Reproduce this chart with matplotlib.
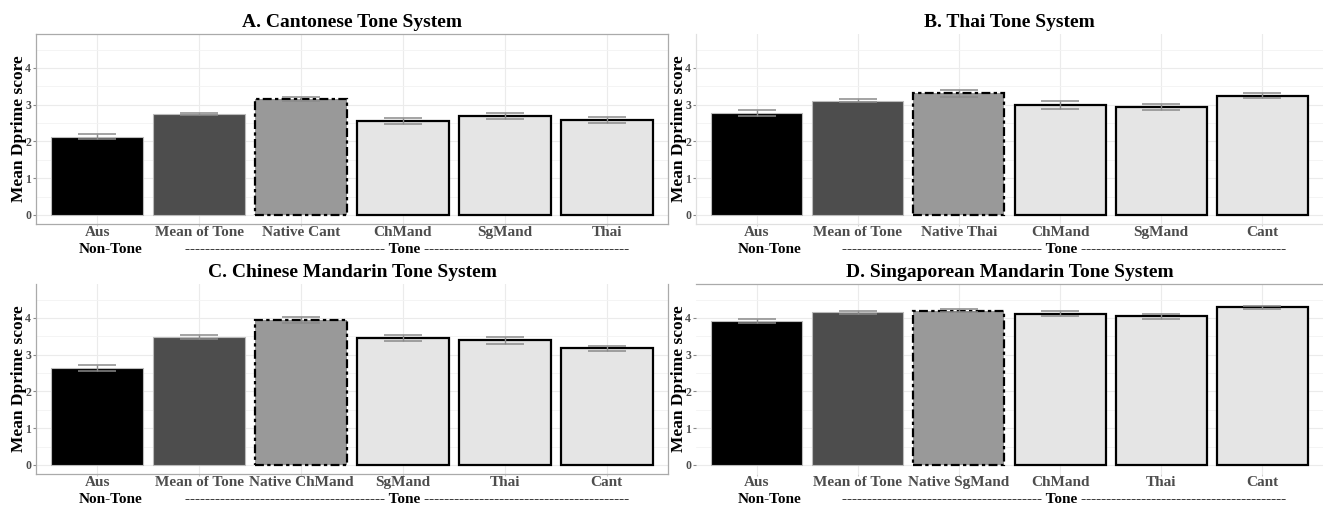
import matplotlib
matplotlib.use("Agg")
from matplotlib import pyplot as plt
from matplotlib.ticker import MultipleLocator

plt.rcParams['font.family'] = ['Liberation Serif', 'DejaVu Serif']
plt.rcParams['font.weight'] = 'bold'

# panel data
cant_labels = ["Aus", "Mean of Tone", "Native Cant", "ChMand", "SgMand", "Thai"]
cant_means = [2.13, 2.75, 3.16, 2.56, 2.70, 2.58]
cant_err = [0.07, 0.03, 0.06, 0.08, 0.08, 0.09]

thai_labels = ["Aus", "Mean of Tone", "Native Thai", "ChMand", "SgMand", "Cant"]
thai_means = [2.77, 3.11, 3.31, 2.99, 2.93, 3.25]
thai_err = [0.08, 0.04, 0.09, 0.10, 0.08, 0.08]

chmand_labels = ["Aus", "Mean of Tone", "Native ChMand", "SgMand", "Thai", "Cant"]
chmand_means = [2.63, 3.48, 3.94, 3.45, 3.39, 3.17]
chmand_err = [0.08, 0.045, 0.08, 0.08, 0.085, 0.07]

sgmand_labels = ["Aus", "Mean of Tone", "Native SgMand", "ChMand", "Thai", "Cant"]
sgmand_means = [3.91, 4.15, 4.20, 4.12, 4.04, 4.29]
sgmand_err = [0.05, 0.045, 0.05, 0.07, 0.08, 0.04]

titles = ["A. Cantonese Tone System", "B. Thai Tone System",
          "C. Chinese Mandarin Tone System", "D. Singaporean Mandarin Tone System"]
y_ticks = [0, 1, 2, 3, 4]
group_left = "Non-Tone"
group_right = "-" * 40 + " Tone " + "-" * 41

fills = ['#000000', '#4d4d4d', '#999999', '#e5e5e5', '#e5e5e5', '#e5e5e5']
edges = ['#bbbbbb', '#bbbbbb', '#000000', '#000000', '#000000', '#000000']
dashdot = (0, (4, 1.5, 1.5, 1.5))

W, H = 1323, 505
fig = plt.figure(figsize=(W / 100, H / 100), dpi=100)


def rect(x0, y_top, x1, y_bot):
    return [x0 / W, (H - y_bot) / H, (x1 - x0) / W, (y_bot - y_top) / H]


boxes = [rect(36, 33.6, 668, 223.6), rect(696, 33.6, 1323, 223.6),
         rect(36, 283.6, 668, 473.6), rect(696, 283.6, 1323, 473.6)]
panels = [(cant_labels, cant_means, cant_err), (thai_labels, thai_means, thai_err),
          (chmand_labels, chmand_means, chmand_err), (sgmand_labels, sgmand_means, sgmand_err)]
spines_on = [('left', 'bottom', 'right', 'top'), ('left', 'bottom'),
             ('left', 'bottom', 'right'), ('top',)]

for i, (box, (labels, means, errs)) in enumerate(zip(boxes, panels)):
    ax = fig.add_axes(box)
    x = list(range(1, len(labels) + 1))
    for j in range(len(x)):
        ls = dashdot if j == 2 else '-'
        lw = 0.8 if j < 2 else 1.6
        ax.bar(x[j], means[j], width=0.9, color=fills[j], edgecolor=edges[j],
               linewidth=lw, linestyle=ls, zorder=2)
    ax.errorbar(x, means, yerr=errs, fmt='none', ecolor='#8a8a8a',
                elinewidth=1.0, capsize=14, capthick=1.1, zorder=3)
    ax.set_xlim(0.4, 6.6)
    ax.set_ylim(-0.235, 4.935)
    ax.set_yticks(y_ticks)
    ax.yaxis.set_minor_locator(MultipleLocator(0.5))
    ax.set_xticks(x)
    ax.set_xticklabels(labels, fontsize=11, color='#4d4d4d', fontweight='bold')
    ax.tick_params(axis='y', labelsize=8.5, labelcolor='#4d4d4d', length=2.5,
                   color='#888888', pad=1)
    ax.tick_params(axis='y', which='minor', length=0)
    ax.tick_params(axis='x', length=1.5, color='#cccccc', pad=0.5)
    ax.grid(True, which='major', color='#ebebeb', linewidth=0.8, zorder=0)
    ax.grid(True, which='minor', axis='y', color='#f3f3f3', linewidth=0.6, zorder=0)
    ax.set_axisbelow(True)
    for side, sp in ax.spines.items():
        if side in spines_on[i]:
            sp.set_color('#aaaaaa' if i != 1 else '#e0e0e0')
            sp.set_linewidth(0.9)
        else:
            sp.set_visible(False)
    ax.set_facecolor('white')
    ax.set_title(titles[i], fontsize=14, fontweight='bold', pad=5)
    ax.set_ylabel("Mean Dprime score", fontsize=12.5, fontweight='bold', labelpad=-1)
    ax.annotate(group_left, xy=(1.13, 0), xycoords=('data', 'axes fraction'),
                xytext=(0, -26), textcoords='offset pixels', ha='center', va='center',
                fontsize=11, fontweight='bold')
    ax.annotate(group_right, xy=(4.04, 0), xycoords=('data', 'axes fraction'),
                xytext=(0, -26), textcoords='offset pixels', ha='center', va='center',
                fontsize=11, fontweight='bold')

fig.savefig("out.png", dpi=100, facecolor='white')
